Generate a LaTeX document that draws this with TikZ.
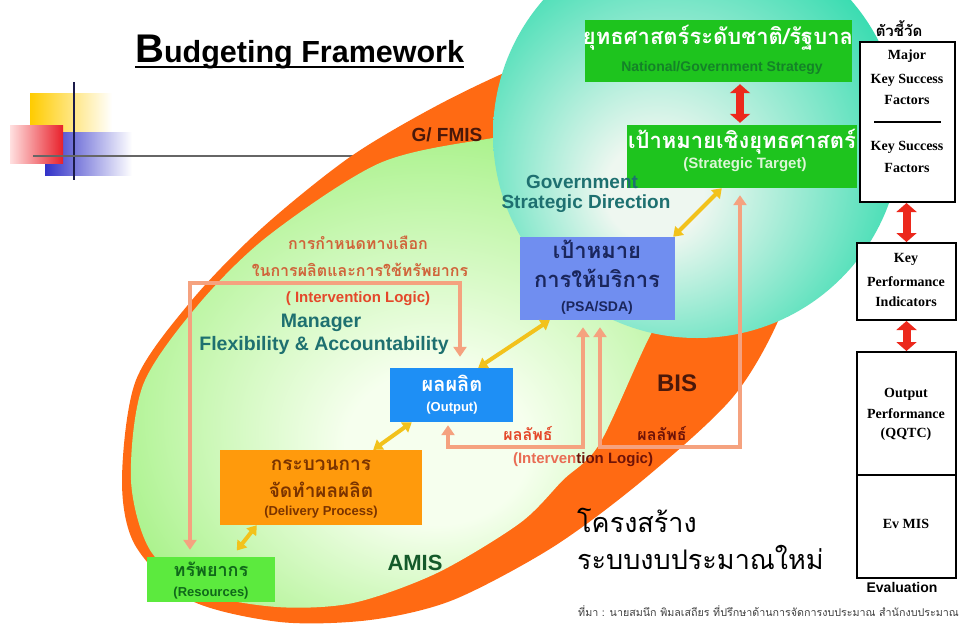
\documentclass[tikz,border=0pt]{standalone}
\usepackage{fontspec}
\setmainfont{Liberation Sans}
\newfontfamily\thaifont[Script=Thai]{Loma}
\newfontfamily\serifface{Liberation Serif}
\usetikzlibrary{arrows.meta}

\newlength{\du}
\setlength{\du}{1pt}

\definecolor{orangeband}{RGB}{255,106,19}
\definecolor{greenin}{RGB}{246,255,238}
\definecolor{greenout}{RGB}{158,240,124}
\definecolor{circin}{RGB}{238,247,240}
\definecolor{circout}{RGB}{44,218,172}
\definecolor{natfill}{RGB}{30,196,30}
\definecolor{nattext}{RGB}{20,130,40}
\definecolor{strattext}{RGB}{220,246,214}
\definecolor{psafill}{RGB}{112,142,240}
\definecolor{psatext}{RGB}{26,38,92}
\definecolor{outfill}{RGB}{30,143,245}
\definecolor{delfill}{RGB}{255,154,12}
\definecolor{deltext}{RGB}{122,51,0}
\definecolor{resfill}{RGB}{92,234,62}
\definecolor{restext}{RGB}{16,104,26}
\definecolor{salmonline}{RGB}{245,162,127}
\definecolor{goldline}{RGB}{242,194,27}
\definecolor{redline}{RGB}{236,40,28}
\definecolor{tealtext}{RGB}{30,112,112}
\definecolor{ilthai}{RGB}{208,100,58}
\definecolor{ilred}{RGB}{228,72,42}
\definecolor{brownlabel}{RGB}{74,24,10}
\definecolor{amistext}{RGB}{20,90,42}
\definecolor{decoyellow}{RGB}{255,204,0}
\definecolor{decored}{RGB}{232,32,42}
\definecolor{decopink}{RGB}{255,224,224}
\definecolor{decoblue}{RGB}{50,50,200}
\definecolor{decoline}{RGB}{27,27,74}

\pgfdeclareradialshading{amisglow}{\pgfpoint{2bp}{-10bp}}{color(0bp)=(greenin); color(8bp)=(greenin); color(32bp)=(greenout); color(50bp)=(greenout)}
\pgfdeclareradialshading{gsdglow}{\pgfpoint{-6bp}{-8bp}}{color(0bp)=(circin); color(6bp)=(circin); color(31bp)=(circout); color(50bp)=(circout)}

\tikzset{
  fillbox/.style={rectangle, inner sep=0pt, draw=none},
  colbox/.style={rectangle, inner sep=0pt, draw=black, line width=2\du, fill=white, minimum width=99\du},
  thaibold/.style={inner sep=0pt, font={\thaifont\bfseries\fontsize{#1}{#1}\selectfont}},
  thaiplain/.style={inner sep=0pt, font={\thaifont\fontsize{#1}{#1}\selectfont}},
  engbold/.style={inner sep=0pt, font={\bfseries\fontsize{#1}{#1}\selectfont}},
  sertext/.style={inner sep=0pt, font={\serifface\bfseries\fontsize{14}{14}\selectfont}},
  salmonarrow/.style={draw=salmonline, line width=4\du, line join=miter,
    {Triangle[width=13pt,length=10pt]}-{Triangle[width=13pt,length=10pt]}},
  yellowarrow/.style={draw=goldline, line width=4\du,
    {Triangle[width=12pt,length=9pt]}-{Triangle[width=12pt,length=9pt]}},
  redarrow/.style={draw=redline, line width=8\du,
    {Triangle[width=20pt,length=9pt]}-{Triangle[width=20pt,length=9pt]}}
}

\begin{document}
\begin{tikzpicture}[x=\du, y=-\du]
\useasboundingbox (0,0) rectangle (961,630);
\fill[white] (0,0) rectangle (961,630);

% corner decoration
\shade[left color=decoyellow, middle color=decoyellow, right color=white] (30,93) rectangle (112,133);
\shade[left color=decoblue, middle color=decoblue, right color=white] (45,132) rectangle (132,175);
\shade[left color=decopink, right color=decored] (10,125) rectangle (63,163);
\draw[line width=2.5\du, decoline] (74,82) -- (74,180);
\draw[line width=1.5\du, black!60] (33,156) -- (380,156);

% title
\node[engbold=30.5, anchor=base west] (title) at (135,62) {{\fontsize{40}{40}\selectfont B}udgeting Framework};
\draw[line width=2\du] ([yshift=-5pt]title.base west) -- ([yshift=-5pt]title.base east);

% G/FMIS band, AMIS area, strategy circle
\fill[orangeband] plot[smooth cycle] coordinates {(122,480) (136,380) (192,300) (262,228) (350,157) (440,104) (530,62) (640,25) (760,15) (820,80) (815,200) (782,312) (733,397) (643,480) (553,547) (453,600) (370,620) (280,622) (190,600) (135,545)};
\shade[shading=amisglow] plot[smooth cycle] coordinates {(131,480) (143,385) (198,305) (268,236) (380,163) (493,138) (600,125) (690,160) (700,260) (653,330) (600,443) (563,480) (520,523) (437,573) (353,603) (277,607) (200,592) (150,550)};
\shade[shading=gsdglow] (697,134) circle (204);

% boxes
\node[fillbox, fill=natfill, minimum width=267\du, minimum height=62\du] (nat) at (718.5,51) {};
\node[fillbox, fill=natfill, minimum width=230\du, minimum height=63\du] (strat) at (742,156.5) {};
\node[fillbox, fill=psafill, minimum width=155\du, minimum height=83\du] (psa) at (597.5,278.5) {};
\node[fillbox, fill=outfill, minimum width=123\du, minimum height=54\du] (outp) at (451.5,395) {};
\node[fillbox, fill=delfill, minimum width=202\du, minimum height=75\du] (deliv) at (321,487.5) {};
\node[fillbox, fill=resfill, minimum width=128\du, minimum height=45\du] (res) at (211,579.5) {};
\node[colbox, minimum width=95\du, minimum height=160\du] (ksf) at (907.5,122) {};
\node[colbox, minimum height=77\du] (kpi) at (906.5,281.5) {};
\node[colbox, minimum height=226\du] (evb) at (906.5,465) {};
\coordinate (ksfcut) at (0,122);
\coordinate (evbcut) at (0,475);
\draw[line width=1.2\du] ([xshift=15pt]ksf.west |- ksfcut) -- ([xshift=-15pt]ksf.east |- ksfcut);
\draw[line width=2\du] (evb.west |- evbcut) -- (evb.east |- evbcut);

% box texts
\node[thaibold=22, text=white] (natth) at (718,38) {ยุทธศาสตร์ระดับชาติ/รัฐบาล};
\node[engbold=14, text=nattext] (naten) at (722,68) {National/Government Strategy};
\node[thaibold=22, text=white] (strath) at (742,142) {เป้าหมายเชิงยุทธศาสตร์};
\node[engbold=15, text=strattext] (straten) at (745,165) {(Strategic Target)};
\node[thaibold=22, text=psatext] (psath1) at (597,249) {เป้าหมาย};
\node[thaibold=22, text=psatext] (psath2) at (597,278) {การให้บริการ};
\node[engbold=14, text=psatext] (psaen) at (597,308) {(PSA/SDA)};
\node[thaibold=20, text=white] (outth) at (452,383) {ผลผลิต};
\node[engbold=13, text=white] (outen) at (452,408) {(Output)};
\node[thaibold=19, text=deltext] (delth1) at (321,465) {กระบวนการ};
\node[thaibold=19, text=deltext] (delth2) at (321,490) {จัดทำผลผลิต};
\node[engbold=13, text=deltext] (delen) at (321,512) {(Delivery Process)};
\node[thaibold=18, text=restext] (resth) at (211,569) {ทรัพยากร};
\node[engbold=13, text=restext] (resen) at (211,593) {(Resources)};

% indicator column
\node[thaibold=15] (kpihead) at (899,29) {ตัวชี้วัด};
\node[sertext] (ksf1) at (907,56) {Major};
\node[sertext] (ksf2) at (907,80) {Key Success};
\node[sertext] (ksf3) at (907,100) {Factors};
\node[sertext] (ksf4) at (907,147) {Key Success};
\node[sertext] (ksf5) at (907,168) {Factors};
\node[sertext] (kpi1) at (906,259) {Key};
\node[sertext] (kpi2) at (906,282) {Performance};
\node[sertext] (kpi3) at (906,302) {Indicators};
\node[sertext] (evb1) at (906,394) {Output};
\node[sertext] (evb2) at (906,414) {Performance};
\node[sertext] (evb3) at (906,434) {(QQTC)};
\node[sertext] (evb4) at (906,524) {Ev MIS};
\node[engbold=14] (evalname) at (902,587) {Evaluation};

% area labels
\node[engbold=19, text=brownlabel] (gfmis) at (447,135) {G/ FMIS};
\node[engbold=19, text=tealtext] (gsd1) at (582,182) {Government};
\node[engbold=19, text=tealtext] (gsd2) at (586,204) {Strategic Direction};
\node[thaibold=16, text=ilthai] (il1) at (358,243) {การกำหนดทางเลือก};
\node[thaibold=16, text=ilthai] (il2) at (360,270) {ในการผลิตและการใช้ทรัพยากร};
\node[engbold=15, text=ilred] (il3) at (358,299) {( Intervention Logic)};
\node[engbold=19.5, text=tealtext] (mgr1) at (321,323) {Manager};
\node[engbold=19.5, text=tealtext] (mgr2) at (324,345) {Flexibility \& Accountability};
\node[engbold=24, text=brownlabel] (bis) at (677,383) {BIS};
\node[thaibold=16, text=ilred] (rs1) at (528,434) {ผลลัพธ์};
\node[thaibold=16, text=brownlabel!80!red] (rs2) at (662,434) {ผลลัพธ์};
\node[engbold=15] (il4) at (583,460) {\textcolor{ilred!80}{(Interven}\textcolor{brownlabel!80!red}{tion Logic)}};
\node[engbold=22, text=amistext] (amis) at (415,563) {AMIS};
\node[thaiplain=27, anchor=west] (newbud1) at (577,520) {โครงสร้าง};
\node[thaiplain=27, anchor=west] (newbud2) at (577,557) {ระบบงบประมาณใหม่};
\node[thaiplain=10.7, anchor=west, text=black!75] (source) at (578,611) {ที่มา : นายสมนึก พิมลเสถียร ที่ปรึกษาด้านการจัดการงบประมาณ สำนักงบประมาณ};

% connectors
\coordinate (ilA) at (190,283);
\coordinate (ilB) at (460,283);
\coordinate (rsA) at (448,447);
\coordinate (rsB) at (583,447);
\coordinate (rsC) at (600,447);
\coordinate (rsD) at (740,447);
\draw[salmonarrow, shorten <=7pt, shorten >=11pt] (res.north -| ilA) -- (ilA) -- (ilB) -- (outp.north -| ilB);
\draw[salmonarrow, shorten <=3pt, shorten >=7pt] (outp.south -| rsA) -- (rsA) -- (rsB) -- (psa.south -| rsB);
\draw[salmonarrow, shorten <=7pt, shorten >=7pt] (psa.south -| rsC) -- (rsC) -- (rsD) -- (strat.south -| rsD);
\draw[yellowarrow] ([xshift=-35pt]outp.north east) -- ([xshift=30pt]psa.south west);
\draw[yellowarrow] ([xshift=-49pt]deliv.north east) -- ([xshift=22pt]outp.south west);
\draw[yellowarrow, shorten <=8pt] ([xshift=85pt]res.north west) -- ([xshift=37pt]deliv.south west);
\draw[yellowarrow] ([xshift=-2pt]psa.north east) -- ([xshift=95pt]strat.south west);
\draw[redarrow, shorten <=2pt, shorten >=2pt] (nat.south -| rsD) -- (strat.north -| rsD);
\draw[redarrow] (kpi.north |- ksf.south) -- (kpi.north);
\draw[redarrow] (kpi.south) -- (evb.north);
\end{tikzpicture}
\end{document}
